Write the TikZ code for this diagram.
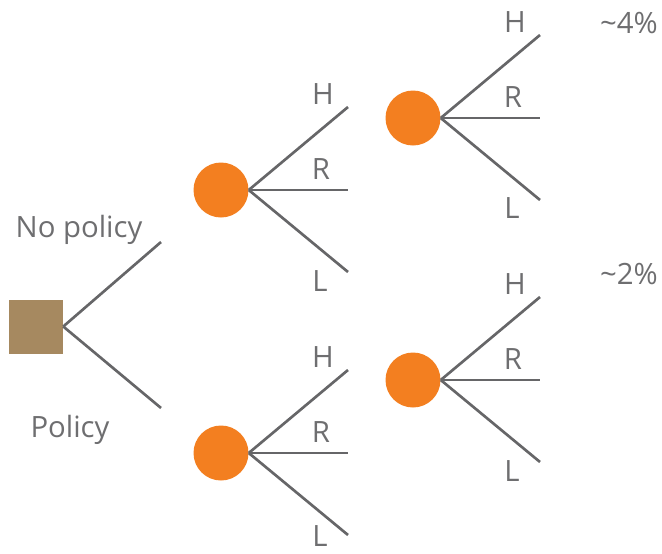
\documentclass[tikz,border=0pt]{standalone}
\usepackage{fontspec}
\setmainfont{Open Sans}
\usepackage{tikz}
\usetikzlibrary{calc}
\definecolor{tgray}{RGB}{102,102,104}
\definecolor{tlabel}{RGB}{110,110,112}
\definecolor{torange}{RGB}{243,127,32}
\definecolor{tbrown}{RGB}{166,137,96}
\tikzset{
  branch/.style  ={draw=tgray, line width=2pt},
  chance/.style  ={circle, fill=torange, minimum size=41.25pt, inner sep=0pt},
  decision/.style={rectangle, fill=tbrown, minimum size=40.5pt, inner sep=0pt},
  lbl/.style     ={font=\fontsize{22}{25}\selectfont, text=tlabel, anchor=base,
                   inner sep=0pt}
}

\begin{document}
\begin{tikzpicture}[x=0.75pt, y=-0.75pt]
\useasboundingbox (0,0) rectangle (662,554);

\node[decision] (dec) at (36,326.5) {};
\coordinate (nopol) at (161,242);
\coordinate (pol) at (161,408);
\draw[branch] (dec.east) -- (nopol);
\draw[branch] (dec.east) -- (pol);
\node[lbl] (noplbl) at (79,237) {No policy};
\node[lbl] (pollbl) at (70,437) {Policy};

% chance nodes, three outcomes each
\foreach \n/\x/\y/\ld in {c1/221/190/101, c2/221/453/93, c3/413/118/100, c4/413/380/101}{
  \node[chance] (\n) at (\x,\y) {};
  \coordinate (\n-h) at ({\x+127},{\y-83});
  \coordinate (\n-r) at ({\x+127},\y);
  \coordinate (\n-l) at ({\x+127},{\y+82});
  \foreach \o in {h,r,l}{\draw[branch] (\n.east) -- (\n-\o);}
  \node[lbl] (\n-hl) at ({\x+102},{\y-86}) {H};
  \node[lbl] (\n-rl) at ({\x+100},{\y-10.5}) {R};
  \node[lbl] (\n-ll) at ({\x+99},{\y+\ld}) {L};
}

\node[lbl] (pct1) at (629,33) {\textasciitilde 4\%};
\node[lbl] (pct2) at (629,284) {\textasciitilde 2\%};
\end{tikzpicture}
\end{document}
